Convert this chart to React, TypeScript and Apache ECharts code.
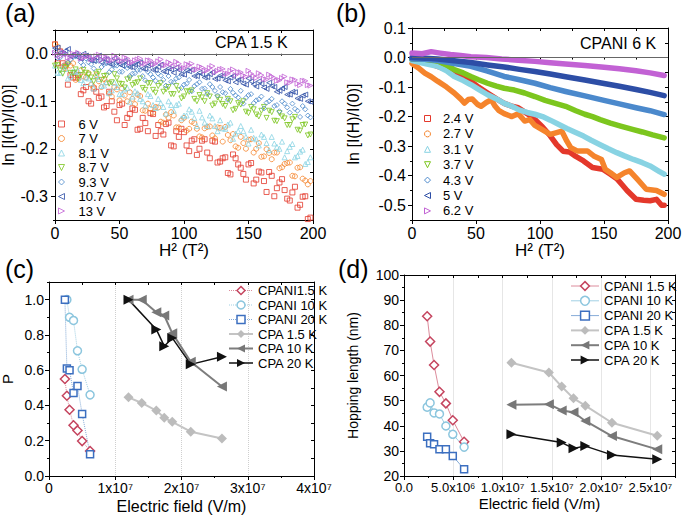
import React, { useEffect, useRef } from 'react';
import * as echarts from 'echarts';

const FONT = "'Liberation Sans', Arial, Helvetica, sans-serif";
const SQUARE = 'path://M0,0L10,0L10,10L0,10Z';
const CIRCLE = 'path://M5,0A5,5,0,1,1,4.999,0Z';
const UP = 'path://M5,0L10,10L0,10Z';
const DOWN = 'path://M0,0L10,0L5,10Z';
const DIAMOND = 'path://M5,0L10,5L5,10L0,5Z';
const LEFT = 'path://M10,0L10,10L0,5Z';
const RIGHT = 'path://M0,0L10,5L0,10Z';

// ---------- Panel (a): CPA 1.5 K ----------
const voltA = ['6 V', '7 V', '8.1 V', '8.7 V', '9.3 V', '10.7 V', '13 V'];
const h2A = [0, 4, 8, 12, 16, 20, 24, 28, 32, 36, 40, 44, 48, 52, 56, 60, 64, 68, 72, 76, 80, 84, 88, 92, 96, 100, 104, 108, 112, 116, 120, 124, 128, 132, 136, 140, 144, 148, 152, 156, 160, 164, 168, 172, 176, 180, 184, 188, 192, 196];
const h2A2 = [2, 6, 10, 14, 18, 22, 26, 30, 34, 38, 42, 46, 50, 54, 58, 62, 66, 70, 74, 78, 82, 86, 90, 94, 98, 102, 106, 110, 114, 118, 122, 126, 130, 134, 138, 142, 146, 150, 154, 158, 162, 166, 170, 174, 178, 182, 186, 190, 194, 198];
const a6V = [0.02, 0.005, -0.025, -0.045, -0.05, -0.085, -0.07, -0.105, -0.08, -0.09, -0.11, -0.1, -0.14, -0.105, -0.135, -0.115, -0.16, -0.135, -0.163, -0.127, -0.15, -0.17, -0.145, -0.195, -0.175, -0.165, -0.205, -0.18, -0.2, -0.18, -0.22, -0.185, -0.227, -0.218, -0.254, -0.22, -0.24, -0.265, -0.23, -0.265, -0.25, -0.291, -0.257, -0.283, -0.264, -0.305, -0.292, -0.324, -0.301, -0.348];
const a6V2 = [-0.02, -0.02, -0.065, -0.05, -0.045, -0.077, -0.1, -0.073, -0.093, -0.113, -0.08, -0.122, -0.108, -0.15, -0.127, -0.118, -0.158, -0.146, -0.125, -0.173, -0.163, -0.148, -0.193, -0.163, -0.158, -0.193, -0.183, -0.213, -0.183, -0.208, -0.183, -0.229, -0.22, -0.251, -0.212, -0.233, -0.253, -0.233, -0.273, -0.248, -0.268, -0.249, -0.3, -0.271, -0.287, -0.309, -0.28, -0.318, -0.3, -0.345];
const a7V = [0.02, 0.005, -0.03, -0.025, -0.055, -0.035, -0.05, -0.065, -0.045, -0.07, -0.06, -0.09, -0.075, -0.073, -0.1, -0.095, -0.086, -0.119, -0.105, -0.124, -0.113, -0.145, -0.135, -0.13, -0.155, -0.135, -0.158, -0.146, -0.174, -0.157, -0.153, -0.178, -0.156, -0.154, -0.182, -0.195, -0.175, -0.2, -0.18, -0.2, -0.217, -0.201, -0.222, -0.208, -0.239, -0.23, -0.257, -0.24, -0.263, -0.275];
const a7V2 = [0.015, -0.027, -0.02, -0.02, -0.053, -0.048, -0.041, -0.07, -0.058, -0.053, -0.083, -0.07, -0.098, -0.088, -0.081, -0.106, -0.089, -0.12, -0.116, -0.112, -0.143, -0.128, -0.123, -0.155, -0.14, -0.162, -0.143, -0.158, -0.176, -0.154, -0.172, -0.155, -0.185, -0.171, -0.169, -0.198, -0.188, -0.181, -0.208, -0.188, -0.216, -0.209, -0.208, -0.241, -0.232, -0.229, -0.258, -0.239, -0.267, -0.268];
const a81V = [-0.025, -0.04, -0.032, -0.048, -0.038, -0.055, -0.05, -0.062, -0.047, -0.068, -0.06, -0.077, -0.07, -0.085, -0.072, -0.09, -0.083, -0.1, -0.085, -0.108, -0.095, -0.112, -0.1, -0.12, -0.105, -0.13, -0.117, -0.135, -0.12, -0.145, -0.13, -0.152, -0.14, -0.158, -0.145, -0.168, -0.152, -0.175, -0.16, -0.18, -0.17, -0.188, -0.175, -0.196, -0.185, -0.205, -0.19, -0.215, -0.202, -0.228];
const a81V2 = [-0.04, -0.026, -0.052, -0.038, -0.036, -0.062, -0.052, -0.073, -0.053, -0.067, -0.083, -0.061, -0.085, -0.075, -0.101, -0.079, -0.095, -0.109, -0.089, -0.114, -0.104, -0.126, -0.108, -0.108, -0.136, -0.13, -0.122, -0.152, -0.134, -0.152, -0.136, -0.163, -0.157, -0.149, -0.179, -0.163, -0.163, -0.189, -0.177, -0.193, -0.175, -0.203, -0.189, -0.2, -0.218, -0.196, -0.218, -0.206, -0.232, -0.218];
const a87V = [-0.025, -0.035, -0.028, -0.04, -0.033, -0.045, -0.04, -0.05, -0.042, -0.055, -0.046, -0.06, -0.052, -0.064, -0.054, -0.066, -0.06, -0.072, -0.062, -0.076, -0.068, -0.08, -0.07, -0.085, -0.077, -0.09, -0.08, -0.095, -0.087, -0.1, -0.09, -0.105, -0.097, -0.11, -0.1, -0.116, -0.107, -0.122, -0.112, -0.128, -0.12, -0.135, -0.123, -0.142, -0.132, -0.15, -0.138, -0.16, -0.15, -0.172];
const a87V2 = [-0.024, -0.042, -0.023, -0.041, -0.052, -0.034, -0.044, -0.058, -0.038, -0.047, -0.063, -0.043, -0.063, -0.071, -0.052, -0.062, -0.052, -0.076, -0.062, -0.082, -0.062, -0.075, -0.085, -0.068, -0.094, -0.079, -0.077, -0.1, -0.092, -0.083, -0.109, -0.092, -0.106, -0.095, -0.119, -0.104, -0.1, -0.125, -0.117, -0.132, -0.112, -0.12, -0.141, -0.125, -0.136, -0.15, -0.133, -0.162, -0.149, -0.17];
const a93V = [0.005, -0.008, 0.0, -0.012, -0.005, -0.018, -0.01, -0.022, -0.015, -0.028, -0.02, -0.033, -0.025, -0.038, -0.03, -0.042, -0.034, -0.047, -0.038, -0.05, -0.042, -0.055, -0.047, -0.06, -0.05, -0.065, -0.055, -0.068, -0.06, -0.073, -0.064, -0.078, -0.07, -0.083, -0.074, -0.088, -0.078, -0.093, -0.085, -0.098, -0.09, -0.103, -0.095, -0.108, -0.1, -0.113, -0.105, -0.12, -0.11, -0.13];
const a93V2 = [-0.009, 0.002, -0.018, -0.007, -0.003, -0.024, -0.018, -0.031, -0.015, -0.022, -0.039, -0.025, -0.038, -0.026, -0.047, -0.041, -0.034, -0.056, -0.043, -0.057, -0.046, -0.067, -0.059, -0.052, -0.072, -0.063, -0.079, -0.064, -0.074, -0.085, -0.07, -0.088, -0.081, -0.097, -0.082, -0.092, -0.105, -0.087, -0.104, -0.096, -0.115, -0.1, -0.11, -0.121, -0.105, -0.124, -0.116, -0.133, -0.117, -0.134];
const a107V = [0.012, 0.002, 0.006, -0.005, 0.0, -0.01, -0.004, -0.014, -0.008, -0.018, -0.012, -0.022, -0.016, -0.025, -0.019, -0.028, -0.022, -0.031, -0.025, -0.034, -0.028, -0.037, -0.031, -0.04, -0.034, -0.044, -0.037, -0.047, -0.04, -0.05, -0.043, -0.053, -0.046, -0.056, -0.05, -0.06, -0.054, -0.065, -0.058, -0.069, -0.063, -0.074, -0.068, -0.08, -0.073, -0.086, -0.08, -0.094, -0.088, -0.1];
const a107V2 = [0.013, 0.0, 0.01, -0.002, -0.008, 0.0, -0.006, -0.015, -0.004, -0.011, -0.021, -0.01, -0.022, -0.015, -0.028, -0.023, -0.018, -0.032, -0.023, -0.034, -0.023, -0.038, -0.033, -0.029, -0.043, -0.035, -0.034, -0.047, -0.043, -0.049, -0.039, -0.052, -0.047, -0.058, -0.047, -0.055, -0.063, -0.052, -0.064, -0.058, -0.071, -0.061, -0.07, -0.078, -0.07, -0.086, -0.081, -0.095, -0.086, -0.101];
const a13V = [0.002, -0.006, 0.0, -0.008, -0.002, -0.01, -0.004, -0.011, -0.005, -0.013, -0.007, -0.014, -0.008, -0.016, -0.01, -0.018, -0.012, -0.02, -0.014, -0.022, -0.016, -0.024, -0.018, -0.027, -0.021, -0.03, -0.024, -0.033, -0.027, -0.036, -0.03, -0.039, -0.033, -0.042, -0.036, -0.045, -0.039, -0.048, -0.042, -0.051, -0.045, -0.054, -0.048, -0.057, -0.051, -0.06, -0.054, -0.063, -0.057, -0.066];
const a13V2 = [-0.004, 0.004, -0.008, 0.0, 0.002, -0.009, -0.005, -0.012, -0.002, -0.006, -0.014, -0.004, -0.014, -0.008, -0.019, -0.014, -0.01, -0.021, -0.014, -0.021, -0.012, -0.024, -0.021, -0.017, -0.03, -0.022, -0.021, -0.033, -0.029, -0.035, -0.026, -0.036, -0.032, -0.042, -0.033, -0.039, -0.046, -0.036, -0.047, -0.041, -0.053, -0.044, -0.051, -0.056, -0.048, -0.061, -0.055, -0.066, -0.057, -0.067];
const seriesA = [[a6V, a6V2], [a7V, a7V2], [a81V, a81V2], [a87V, a87V2], [a93V, a93V2], [a107V, a107V2], [a13V, a13V2]];

// ---------- Panel (b): CPANI 6 K ----------
const voltB = ['2.4 V', '2.7 V', '3.1 V', '3.7 V', '4.3 V', '5 V', '6.2 V'];
const b24 = [[0, -0.005], [8, -0.012], [14, -0.02], [20, -0.03], [27, -0.04], [33, -0.053], [40, -0.065], [46, -0.08], [52, -0.1], [59, -0.12], [66, -0.14], [72, -0.155], [78, -0.165], [83, -0.17], [90, -0.19], [96, -0.21], [102, -0.235], [108, -0.265], [113, -0.295], [118, -0.317], [123, -0.32], [128, -0.335], [134, -0.35], [141, -0.372], [149, -0.378], [155, -0.395], [160, -0.41], [164, -0.43], [168, -0.45], [175, -0.48], [181, -0.483], [186, -0.485], [191, -0.48], [195, -0.5], [197, -0.5]];
const b27 = [[0, -0.02], [5, -0.035], [10, -0.053], [15, -0.065], [20, -0.08], [27, -0.1], [33, -0.12], [38, -0.14], [41, -0.154], [44, -0.142], [47, -0.14], [51, -0.158], [54, -0.165], [58, -0.152], [62, -0.143], [65, -0.165], [68, -0.18], [72, -0.19], [78, -0.2], [83, -0.19], [88, -0.215], [92, -0.21], [96, -0.23], [102, -0.245], [108, -0.26], [113, -0.254], [117, -0.249], [121, -0.283], [124, -0.305], [129, -0.316], [137, -0.316], [142, -0.333], [148, -0.345], [151, -0.378], [155, -0.39], [160, -0.406], [166, -0.39], [170, -0.384], [176, -0.412], [183, -0.446], [191, -0.45], [197, -0.463]];
const b31 = [[0, -0.01], [10, -0.02], [20, -0.03], [27, -0.045], [33, -0.064], [40, -0.078], [46, -0.092], [52, -0.108], [59, -0.126], [66, -0.14], [72, -0.155], [78, -0.165], [84, -0.178], [90, -0.186], [96, -0.192], [102, -0.2], [108, -0.212], [114, -0.225], [121, -0.24], [127, -0.252], [134, -0.266], [140, -0.28], [147, -0.295], [153, -0.308], [160, -0.322], [166, -0.333], [173, -0.345], [180, -0.356], [186, -0.367], [193, -0.385], [197, -0.395]];
const b37 = [[0, -0.005], [10, -0.006], [20, -0.012], [27, -0.025], [33, -0.041], [40, -0.052], [46, -0.064], [52, -0.075], [59, -0.087], [66, -0.097], [72, -0.104], [80, -0.11], [88, -0.12], [96, -0.132], [104, -0.145], [112, -0.155], [120, -0.165], [128, -0.18], [135, -0.192], [141, -0.2], [147, -0.21], [155, -0.222], [163, -0.232], [173, -0.244], [180, -0.252], [188, -0.262], [197, -0.272]];
const b43 = [[0, -0.005], [10, -0.006], [20, -0.01], [33, -0.02], [46, -0.03], [59, -0.046], [72, -0.064], [84, -0.075], [96, -0.087], [108, -0.102], [120, -0.115], [135, -0.13], [150, -0.145], [162, -0.157], [175, -0.17], [186, -0.18], [197, -0.193]];
const b5 = [[0, 0.0], [10, -0.002], [20, -0.005], [33, -0.011], [46, -0.017], [59, -0.025], [72, -0.032], [84, -0.04], [96, -0.047], [108, -0.056], [120, -0.065], [135, -0.076], [150, -0.088], [162, -0.097], [175, -0.108], [186, -0.118], [197, -0.129]];
const b62 = [[0, 0.015], [8, 0.013], [15, 0.02], [22, 0.015], [30, 0.01], [38, 0.007], [46, 0.003], [58, 0.0], [70, -0.005], [83, -0.009], [96, -0.013], [108, -0.018], [120, -0.022], [135, -0.027], [150, -0.033], [162, -0.038], [175, -0.045], [186, -0.052], [197, -0.061]];
const seriesB = [b24, b27, b31, b37, b43, b5, b62];

const symV = [SQUARE, CIRCLE, UP, DOWN, DIAMOND, LEFT, RIGHT];
const colV = ['#e4382b', '#f5842c', '#88d3e3', '#7cc61e', '#4b89cc', '#2d4ea6', '#c262d4'];

// ---------- Panel (c): P vs electric field ----------
const namesC = ['CPANI1.5 K', 'CPANI 10 K', 'CPANI 20 K', 'CPA 1.5 K', 'CPA 10 K', 'CPA 20 K'];
const eCPANIc = [2.4e6, 2.7e6, 3.1e6, 3.7e6, 4.3e6, 5.0e6, 6.2e6];
const eCPANI10c = [2.7e6, 3.1e6, 3.7e6, 4.3e6, 5.0e6, 6.2e6];
const eCPAc = [1.2e7, 1.4e7, 1.62e7, 1.74e7, 1.86e7, 2.14e7, 2.61e7];
const eCPA20c = [1.2e7, 1.62e7, 1.74e7, 1.86e7, 2.14e7, 2.61e7];
const pCPANI15 = [0.55, 0.455, 0.376, 0.288, 0.258, 0.198, 0.142];
const pCPANI10 = [1.0, 0.9, 0.882, 0.71, 0.605, 0.46];
const pCPANI20 = [1.0, 0.61, 0.6, 0.47, 0.51, 0.352, 0.124];
const pCPA15 = [0.446, 0.414, 0.371, 0.33, 0.307, 0.251, 0.213];
const pCPA10 = [1.0, 1.0, 0.929, 0.91, 0.81, 0.648, 0.507];
const pCPA20 = [1.0, 0.831, 0.736, 0.783, 0.633, 0.676];

// ---------- Panel (d): hopping length vs electric field ----------
const namesD = ['CPANI 1.5 K', 'CPANI 10 K', 'CPANI 20 K', 'CPA 1.5 K', 'CPA 10 K', 'CPA 20 K'];
const eCPANId = [2.35e6, 2.65e6, 3.05e6, 3.6e6, 4.25e6, 4.95e6, 6.1e6];
const eCPAd = [1.09e7, 1.47e7, 1.6e7, 1.72e7, 1.84e7, 2.11e7, 2.57e7];
const eCPA20d = [1.09e7, 1.6e7, 1.72e7, 1.84e7, 2.11e7, 2.57e7];
const lCPANI15 = [83.6, 73.5, 64.2, 53.5, 48.9, 42.2, 33.6];
const lCPANI10 = [47.4, 49.1, 45.1, 44.7, 39.9, 36.6, 31.5];
const lCPANI20 = [35.6, 33.0, 32.6, 30.6, 30.6, 28.0, 22.7];
const lCPA15 = [65.1, 61.2, 55.6, 50.9, 48.0, 41.2, 36.0];
const lCPA10 = [48.4, 48.6, 46.1, 45.4, 41.9, 35.9, 30.6];
const lCPA20 = [36.6, 33.3, 31.0, 31.9, 28.4, 26.7];

// tick labels
const ticksH2 = [0, 50, 100, 150, 200];
const ticksLnA = [-0.3, -0.2, -0.1, 0];
const ticksLnB = [-0.5, -0.4, -0.3, -0.2, -0.1, 0, 0.1];
const ticksEc = [0, 1e7, 2e7, 3e7, 4e7];
const ticksPc = [0, 0.2, 0.4, 0.6, 0.8, 1.0];
const ticksEd = [0, 5e6, 1e7, 1.5e7, 2e7, 2.5e7];
const ticksLd = [20, 30, 40, 50, 60, 70, 80, 90, 100];

const zip = (xs: number[], ys: number[]) => xs.map((x, i) => [x, ys[i]]);

const GRIDS = [
  { left: 55, top: 30, width: 258, height: 190 },
  { left: 412, top: 28, width: 256, height: 192 },
  { left: 49, top: 282, width: 265, height: 194 },
  { left: 404, top: 275, width: 271, height: 201 },
];

const LINE = { show: true, onZero: false, lineStyle: { color: '#000', width: 1 } };

function xAxes(p: number, min: number, max: number, step: number, majors: number[], fmt: any, fs: number, name: string, nameSize: number, nameGap: number, split?: any) {
  return [
    {
      type: 'value', gridIndex: p, position: 'bottom', min, max, interval: step,
      axisLine: LINE,
      axisTick: { show: true, customValues: majors, length: 4, lineStyle: { color: '#000' } },
      axisLabel: { customValues: majors, formatter: fmt, color: '#000', fontSize: fs, fontFamily: FONT, margin: 5 },
      splitLine: split || { show: false },
      name, nameLocation: 'middle', nameGap,
      nameTextStyle: { color: '#000', fontSize: nameSize, fontFamily: FONT },
    },
    {
      type: 'value', gridIndex: p, position: 'top', min, max, interval: step,
      axisLine: LINE, axisTick: { show: true, inside: true, length: 3, lineStyle: { color: '#000' } },
      axisLabel: { show: false }, splitLine: { show: false },
    },
    {
      type: 'value', gridIndex: p + 4, position: 'bottom', min, max, interval: step,
      axisLine: { show: false }, axisTick: { show: true, length: 2, lineStyle: { color: '#000' } },
      axisLabel: { show: false }, splitLine: { show: false },
    },
  ];
}

function yAxes(p: number, min: number, max: number, step: number, majors: number[], fmt: any, fs: number, name: string, nameSize: number, nameGap: number, margin: number) {
  return [
    {
      type: 'value', gridIndex: p, position: 'left', min, max, interval: step,
      axisLine: LINE,
      axisTick: { show: true, customValues: majors, length: 4, lineStyle: { color: '#000' } },
      axisLabel: { customValues: majors, formatter: fmt, color: '#000', fontSize: fs, fontFamily: FONT, margin },
      splitLine: { show: false },
      name, nameLocation: 'middle', nameGap, nameRotate: 90,
      nameTextStyle: { color: '#000', fontSize: nameSize, fontFamily: FONT },
    },
    {
      type: 'value', gridIndex: p, position: 'right', min, max, interval: step,
      axisLine: LINE, axisTick: { show: true, inside: true, length: 3, lineStyle: { color: '#000' } },
      axisLabel: { show: false }, splitLine: { show: false },
    },
    {
      type: 'value', gridIndex: p + 4, position: 'left', min, max, interval: step,
      axisLine: { show: false }, axisTick: { show: true, length: 2, lineStyle: { color: '#000' } },
      axisLabel: { show: false }, splitLine: { show: false },
    },
  ];
}

const fmt1 = (v: number) => (Math.abs(v) < 1e-9 ? '0.0' : v.toFixed(1));
const fmtInt = (v: number) => String(Math.round(v));
const fmtEc = (v: number) => (v === 0 ? '0' : `${Math.round(v / 1e7)}x10⁷`);
const fmtEd = (v: number) => (v === 0 ? '0.0' : v < 1e7 ? `${(v / 1e6).toFixed(1)}x10⁶` : `${(v / 1e7).toFixed(1)}x10⁷`);

const zeroLine = {
  silent: true, symbol: ['none', 'none'], label: { show: false },
  lineStyle: { color: '#666', width: 1, type: 'solid' }, data: [{ yAxis: 0 }],
};

function buildOption() {
  const series: any[] = [];
  seriesA.forEach(([y1, y2], i) => {
    series.push({
      type: 'scatter', name: 'a:' + voltA[i], xAxisIndex: 0, yAxisIndex: 0,
      data: zip(h2A, y1).concat(zip(h2A2, y2)), symbol: symV[i], symbolSize: 5, silent: true,
      itemStyle: { color: 'rgba(255,255,255,0)', borderColor: colV[i], borderWidth: 1 },
      markLine: i === 0 ? zeroLine : undefined,
    });
  });
  seriesB.forEach((d, i) => {
    series.push({
      type: 'line', name: 'b:' + voltB[i], xAxisIndex: 3, yAxisIndex: 3,
      data: d, symbol: symV[i], showSymbol: false, silent: true,
      itemStyle: { color: colV[i] },
      lineStyle: { color: colV[i], width: 5.5, join: 'round', cap: 'round' },
      markLine: i === 0 ? zeroLine : undefined,
    });
  });
  const styles = [
    { sym: 'diamond', size: 9, fill: '#fff', border: '#c5455f', line: '#dc8c9c', lw: 1, hollow: true },
    { sym: 'circle', size: 8, fill: '#fff', border: '#8cc6de', line: '#a2d0e4', lw: 1, hollow: true },
    { sym: 'rect', size: 7, fill: '#fff', border: '#3c6fc0', line: '#86acd8', lw: 1, hollow: true },
    { sym: 'diamond', size: 10, fill: '#bcbcbc', border: '#bcbcbc', line: '#c4c4c4', lw: 2, hollow: false },
    { sym: LEFT, size: 10, fill: '#777', border: '#777', line: '#7d7d7d', lw: 2, hollow: false },
    { sym: RIGHT, size: 10, fill: '#111', border: '#111', line: '#111', lw: 1.5, hollow: false },
  ];
  const dataC = [zip(eCPANIc, pCPANI15), zip(eCPANI10c, pCPANI10), zip(eCPANIc, pCPANI20), zip(eCPAc, pCPA15), zip(eCPAc, pCPA10), zip(eCPA20c, pCPA20)];
  const dataD = [zip(eCPANId, lCPANI15), zip(eCPANId, lCPANI10), zip(eCPANId, lCPANI20), zip(eCPAd, lCPA15), zip(eCPAd, lCPA10), zip(eCPA20d, lCPA20)];
  dataC.forEach((d, i) => {
    const s = styles[i];
    series.push({
      type: 'line', name: 'c:' + namesC[i], xAxisIndex: 6, yAxisIndex: 6, data: d,
      symbol: s.sym, symbolSize: s.size, silent: true,
      itemStyle: { color: s.fill, borderColor: s.border, borderWidth: s.hollow ? 1.5 : 0 },
      lineStyle: { color: s.line, width: s.lw, type: s.hollow ? 'dotted' : 'solid' },
    });
  });
  dataD.forEach((d, i) => {
    const s = styles[i];
    series.push({
      type: 'line', name: 'd:' + namesD[i], xAxisIndex: 9, yAxisIndex: 9, data: d,
      symbol: s.sym, symbolSize: s.size, silent: true,
      itemStyle: { color: s.fill, borderColor: s.border, borderWidth: s.hollow ? 1.5 : 0 },
      lineStyle: { color: s.line, width: s.lw },
    });
  });

  const strip = (n: string) => n.slice(2);
  const legendBase = {
    orient: 'vertical', padding: 0, selectedMode: false, formatter: strip, symbolKeepAspect: true,
    itemStyle: { borderWidth: 'inherit' }, lineStyle: { width: 'inherit' },
  };

  return {
    animation: false,
    backgroundColor: '#fff',
    textStyle: { fontFamily: FONT },
    grid: [...GRIDS, ...GRIDS].map((g) => ({ ...g, containLabel: false, outerBoundsMode: 'none', show: false })),
    xAxis: [
      ...xAxes(0, 0, 200, 25, ticksH2, fmtInt, 16, 'H² (T²)', 17, 19),
      ...xAxes(1, 0, 200, 25, ticksH2, fmtInt, 16, 'H² (T²)', 17, 17),
      ...xAxes(2, 0, 4e7, 5e6, ticksEc, fmtEc, 14, 'Electric field (V/m)', 16, 22,
        { show: true, lineStyle: { color: '#cfcfcf', type: 'dotted', width: 1 } }),
      ...xAxes(3, 0, 2.75e7, 2.5e6, ticksEd, fmtEd, 13, 'Electric field (V/m)', 15, 20,
        { show: true, lineStyle: { color: '#e6e6e6', type: 'solid', width: 1 } }),
    ],
    yAxis: [
      ...yAxes(0, -0.35, 0.05, 0.05, ticksLnA, fmt1, 16, 'ln [I(H)/I(0)]', 16, 38, 7),
      ...yAxes(1, -0.55, 0.1, 0.05, ticksLnB, fmt1, 16, 'ln [I(H)/I(0)]', 16, 51, 6),
      ...yAxes(2, 0, 1.1, 0.1, ticksPc, fmt1, 14, 'P', 15, 34, 5),
      ...yAxes(3, 20, 100, 5, ticksLd, fmtInt, 14, 'Hopping length (nm)', 14, 44, 5),
    ],
    legend: [
      {
        ...legendBase, left: 58, top: 117, itemWidth: 24, itemHeight: 6, itemGap: 0.5,
        textStyle: { fontSize: 13, lineHeight: 14, color: '#000', fontFamily: FONT },
        data: voltA.map((v) => 'a:' + v),
      },
      {
        ...legendBase, left: 424, top: 111, itemWidth: 21, itemHeight: 6, itemGap: 0.4,
        textStyle: { fontSize: 13, lineHeight: 15, color: '#000', fontFamily: FONT },
        data: voltB.map((v, i) => ({
          name: 'b:' + v, icon: symV[i],
          itemStyle: { color: 'rgba(255,255,255,0)', borderColor: colV[i], borderWidth: 1 },
        })),
      },
      {
        ...legendBase, left: 228, top: 284, itemWidth: 24, itemHeight: 10, itemGap: 1.5,
        textStyle: { fontSize: 13, lineHeight: 11.5, color: '#000', fontFamily: FONT },
        data: namesC.map((n) => 'c:' + n),
      },
      {
        ...legendBase, left: 570, top: 279, itemWidth: 28, itemHeight: 11, itemGap: 0.8,
        textStyle: { fontSize: 13, lineHeight: 14, color: '#000', fontFamily: FONT },
        data: namesD.map((n) => 'd:' + n),
      },
    ],
    graphic: [
      { type: 'text', left: 5, top: 0, style: { text: '(a)', fontSize: 25, fontFamily: FONT, fill: '#000' } },
      { type: 'text', left: 336, top: 0, style: { text: '(b)', fontSize: 25, fontFamily: FONT, fill: '#000' } },
      { type: 'text', left: 5, top: 256, style: { text: '(c)', fontSize: 25, fontFamily: FONT, fill: '#000' } },
      { type: 'text', left: 338, top: 256, style: { text: '(d)', fontSize: 25, fontFamily: FONT, fill: '#000' } },
      { type: 'text', left: 215, top: 34, style: { text: 'CPA 1.5 K', fontSize: 16, fontFamily: FONT, fill: '#000' } },
      { type: 'text', left: 580, top: 35, style: { text: 'CPANI 6 K', fontSize: 16, fontFamily: FONT, fill: '#000' } },
    ],
    series,
  };
}

export default function App() {
  const ref = useRef<HTMLDivElement>(null);
  useEffect(() => {
    if (!ref.current) return;
    const chart = echarts.init(ref.current, null, { renderer: 'svg' });
    chart.setOption(buildOption() as any);
    return () => chart.dispose();
  }, []);
  return <div ref={ref} style={{ position: 'absolute', left: 0, top: 0, width: 685, height: 518 }} />;
}
